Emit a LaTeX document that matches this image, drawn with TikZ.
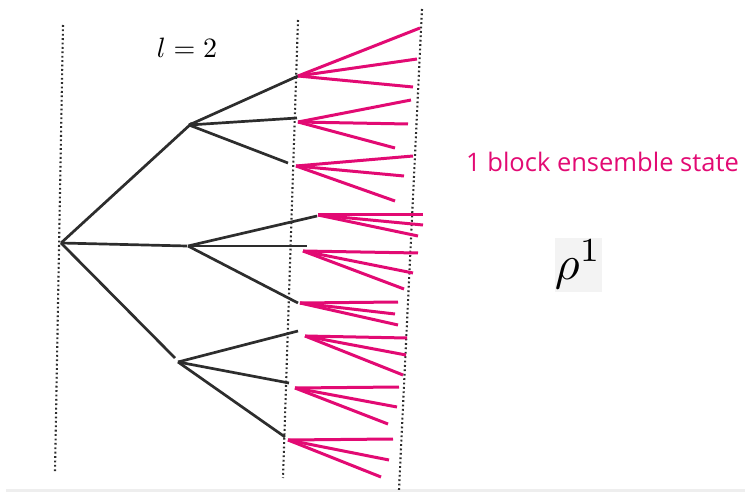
\documentclass[tikz,border=0pt]{standalone}
\usepackage{fontspec}
\newfontfamily\labelfont{Open Sans}
\definecolor{mag}{RGB}{226,10,115}
\definecolor{ink}{RGB}{45,45,45}
\definecolor{boxgray}{RGB}{243,243,243}
\definecolor{stripgray}{RGB}{238,238,238}
\tikzset{
  guide/.style={ink, line width=2.1pt, dash pattern=on 1.8pt off 2.6pt},
  branch/.style={ink, line width=2.7pt},
  leaf/.style={mag, line width=3pt},
}
\begin{document}
\begin{tikzpicture}[x=1pt,y=-1pt]
\useasboundingbox (0,0) rectangle (745,492);
\fill[stripgray] (6,489) rectangle (745,492);
% dotted guides
\coordinate (g1a) at (63,25);  \coordinate (g1b) at (55,472);
\coordinate (g2a) at (298,20); \coordinate (g2b) at (283,478);
\coordinate (g3a) at (422,9);  \coordinate (g3b) at (399,490);
\draw[guide] (g1a) -- (g1b);
\draw[guide] (g2a) -- (g2b);
\draw[guide] (g3a) -- (g3b);
% tree
\coordinate (root) at (61,243);
\coordinate (A) at (192,123); \coordinate (As) at (189,125);
\coordinate (B) at (187,246); \coordinate (Bs) at (188,246);
\coordinate (C) at (175,358); \coordinate (Cs) at (178,362);
\coordinate (a1) at (298,76);  \coordinate (a2) at (297,118); \coordinate (a3) at (288,163);
\coordinate (b1) at (317,216); \coordinate (b2) at (307,246); \coordinate (b3) at (298,303);
\coordinate (c1) at (298,331); \coordinate (c2) at (289,383); \coordinate (c3) at (285,437);
\draw[branch] (root) -- (A);
\draw[branch] (root) -- (B);
\draw[branch] (root) -- (C);
\draw[branch] (As) -- (a1);
\draw[branch] (As) -- (a2);
\draw[branch] (As) -- (a3);
\draw[branch] (Bs) -- (b1);
\draw[branch] (Bs) -- (b2);
\draw[branch] (Bs) -- (b3);
\draw[branch] (Cs) -- (c1);
\draw[branch] (Cs) -- (c2);
\draw[branch] (Cs) -- (c3);
% magenta fans
\foreach \i/\ox/\oy/\ax/\ay/\bx/\by/\cx/\cy in {
  1/298/76/420/28/417/59/413/87,
  2/298/122/411/100/408/124/395/148,
  3/296/166/413/156/404/176/395/201,
  4/318/215/423/215/423/225/418/236,
  5/303/251/418/253/413/273/404/289,
  6/300/303/398/302/395/314/398/325,
  7/305/336/407/338/406/355/403/375,
  8/295/388/399/387/397/407/388/424,
  9/288/440/393/439/389/460/381/477}{
  \coordinate (f\i) at (\ox,\oy);
  \coordinate (f\i a) at (\ax,\ay);
  \coordinate (f\i b) at (\bx,\by);
  \coordinate (f\i c) at (\cx,\cy);
  \draw[leaf] (f\i) -- (f\i a);
  \draw[leaf] (f\i) -- (f\i b);
  \draw[leaf] (f\i) -- (f\i c);
}
% labels
\node[inner sep=0pt, anchor=base, scale=2.8] (lab) at (187,58) {$l=2$};
\node[inner sep=0pt, anchor=base west, text=mag] (ens) at (466,172) {\labelfont\fontsize{25.5}{30}\selectfont 1 block ensemble state};
\fill[boxgray] (555,238) rectangle (602,292);
\node[inner sep=0pt, anchor=base west, scale=4.8] (rho) at (554,279) {$\rho^1$};
\end{tikzpicture}
\end{document}
